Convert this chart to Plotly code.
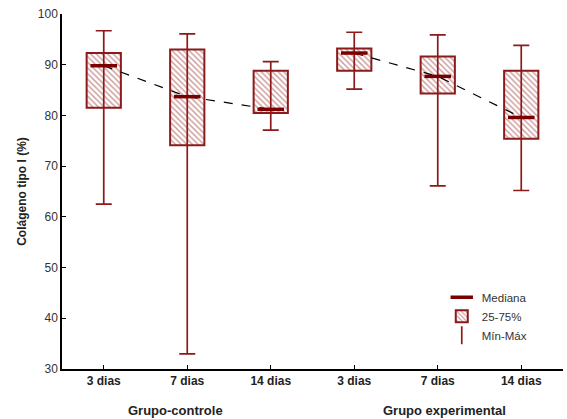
import plotly.graph_objects as go

categories = ["3 dias", "7 dias", "14 dias", "3 dias", "7 dias", "14 dias"]
groups = ["Grupo-controle", "Grupo experimental"]
group_of = [0, 0, 0, 1, 1, 1]
v_min = [62.5, 33.0, 77.1, 85.2, 66.1, 65.2]
v_q1 = [81.5, 74.1, 80.5, 88.8, 84.3, 75.4]
v_med = [89.8, 83.7, 81.2, 92.3, 87.7, 79.6]
v_q3 = [92.3, 93.0, 88.8, 93.2, 91.6, 88.8]
v_max = [96.7, 96.1, 90.6, 96.4, 95.9, 93.8]

RED = "#8b1a1a"
DARK = "#7a0000"
xs = list(range(len(categories)))

fig = go.Figure()

# whiskers
fig.add_trace(go.Scatter(
    x=xs, y=v_med, mode="markers", marker=dict(size=1, color="rgba(0,0,0,0)"),
    error_y=dict(type="data", symmetric=False,
                 array=[b - a for a, b in zip(v_med, v_max)],
                 arrayminus=[a - b for a, b in zip(v_med, v_min)],
                 color=RED, thickness=1.7, width=8),
    showlegend=False, hoverinfo="skip"))

# boxes
fig.add_trace(go.Bar(
    x=xs, y=[b - a for a, b in zip(v_q1, v_q3)], base=v_q1, width=0.41,
    marker=dict(color="white", line=dict(color=RED, width=2),
                pattern=dict(shape="\\", fgcolor="#9a2f2f", bgcolor="white", size=4, solidity=0.35)),
    name="25-75%", legendrank=2))

# dashed line connecting medians within each group
for g in range(len(groups)):
    idx = [i for i in xs if group_of[i] == g]
    fig.add_trace(go.Scatter(
        x=idx, y=[v_med[i] for i in idx], mode="lines",
        line=dict(color="black", width=1.2, dash="dash"),
        showlegend=False, hoverinfo="skip"))

# medians
fig.add_trace(go.Scatter(
    x=xs, y=v_med, mode="markers",
    marker=dict(symbol="line-ew", size=19, line=dict(color=DARK, width=3.5)),
    name="Mediana", legendrank=1))

# legend entry for min-max
fig.add_trace(go.Scatter(
    x=[None], y=[None], mode="markers",
    marker=dict(symbol="line-ns", size=13, line=dict(color=RED, width=1.7)),
    name="Mín-Máx", legendrank=3))

group_centers = [sum(i for i in xs if group_of[i] == g) / 3 for g in range(len(groups))]
group_shift = [-12, 7]
for g, name in enumerate(groups):
    fig.add_annotation(x=group_centers[g], xref="x", y=0, yref="paper", yshift=-41,
                       xshift=group_shift[g],
                       text="<b>%s</b>" % name, showarrow=False,
                       font=dict(size=13, color="#222"), yanchor="middle")

fig.update_layout(
    width=567, height=419,
    margin=dict(l=62, r=4, t=14, b=50, autoexpand=False),
    plot_bgcolor="white", paper_bgcolor="white",
    font=dict(family="Liberation Sans, Arial, sans-serif", color="#333"),
    barmode="overlay",
    legend=dict(x=0.758, y=0.243, xanchor="left", yanchor="top",
                bgcolor="rgba(0,0,0,0)", font=dict(size=11.5, color="#333"),
                itemwidth=30, tracegroupgap=0),
)
fig.update_xaxes(range=[-0.5, 5.5], tickmode="array", tickvals=xs,
                 ticktext=["<b>%s</b>" % c for c in categories],
                 showline=True, linecolor="black", linewidth=1.5,
                 ticks="inside", ticklen=4, tickcolor="black",
                 showgrid=False, zeroline=False, tickfont=dict(size=12, color="#222"))
fig.update_yaxes(range=[30, 100], tickvals=list(range(30, 101, 10)),
                 showline=True, linecolor="black", linewidth=1.5,
                 ticks="inside", ticklen=4, tickcolor="black",
                 showgrid=False, zeroline=False, tickfont=dict(size=12, color="#333"),
                 automargin=False,
                 title=dict(text="<b>Colágeno tipo I (%)</b>", font=dict(size=12, color="#222"), standoff=9))

post = ("document.body.style.margin='0px';"
        "document.body.style.overflow='hidden';"
        "Plotly.relayout('{plot_id}', {width: 567, height: 419});")
fig.write_html("out.html", post_script=post, config={"displayModeBar": False})
